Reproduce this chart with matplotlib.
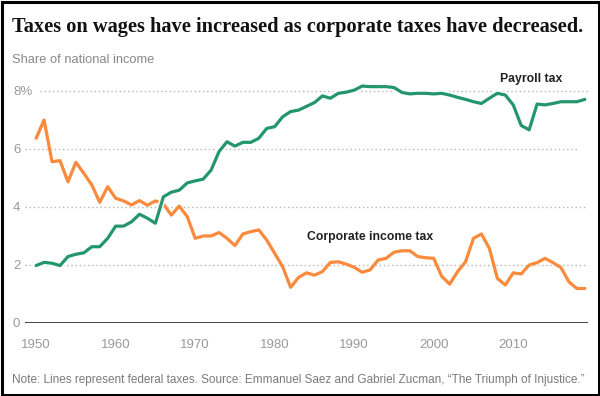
import matplotlib
matplotlib.use("Agg")
import matplotlib.pyplot as plt
from matplotlib.patches import Rectangle
import matplotlib.patheffects as pe

years = list(range(1950, 2020))
payroll = [1.97, 2.08, 2.05, 1.97, 2.28, 2.36, 2.41, 2.62, 2.62, 2.91,
           3.33, 3.33, 3.48, 3.74, 3.60, 3.43, 4.34, 4.50, 4.57, 4.82,
           4.89, 4.95, 5.26, 5.90, 6.24, 6.09, 6.22, 6.22, 6.36, 6.70,
           6.76, 7.10, 7.28, 7.33, 7.46, 7.59, 7.82, 7.74, 7.91, 7.95,
           8.02, 8.16, 8.14, 8.14, 8.14, 8.11, 7.94, 7.89, 7.91, 7.91,
           7.89, 7.91, 7.85, 7.77, 7.70, 7.62, 7.56, 7.74, 7.91, 7.85,
           7.51, 6.80, 6.65, 7.54, 7.51, 7.56, 7.62, 7.62, 7.62, 7.70]
corporate = [6.36, 6.99, 5.55, 5.59, 4.86, 5.53, 5.15, 4.75, 4.15, 4.69,
             4.29, 4.20, 4.06, 4.21, 4.05, 4.20, 4.10, 3.71, 4.02, 3.66,
             2.91, 2.99, 2.99, 3.11, 2.91, 2.66, 3.06, 3.14, 3.20, 2.85,
             2.39, 1.93, 1.22, 1.56, 1.72, 1.64, 1.76, 2.08, 2.10, 2.02,
             1.91, 1.74, 1.82, 2.16, 2.22, 2.43, 2.48, 2.48, 2.28, 2.24,
             2.22, 1.60, 1.33, 1.76, 2.10, 2.91, 3.06, 2.56, 1.53, 1.30,
             1.72, 1.68, 1.99, 2.07, 2.22, 2.07, 1.90, 1.41, 1.18, 1.18]
ytick_vals = [0, 2, 4, 6, 8]
ytick_labels = ["0", "2", "4", "6", "8%"]
xtick_vals = [1950, 1960, 1970, 1980, 1990, 2000, 2010]
xtick_labels = ["1950", "1960", "1970", "1980", "1990", "2000", "2010"]

GREEN = "#24966c"
ORANGE = "#fb8a3c"
SANS = ["Liberation Sans", "DejaVu Sans"]

W, H = 600, 396
fig = plt.figure(figsize=(W / 100, H / 100), dpi=100)
fig.patch.set_facecolor("white")

# axes placement in pixels
L, R, B, T = 25, 588, 322.7, 79.0
ax = fig.add_axes([L / W, (H - B) / H, (R - L) / W, (B - T) / H])
ax.set_xlim(1948.6, 2019.4)
ax.set_ylim(0, (B - T) / 29.0)
for s in ax.spines.values():
    s.set_visible(False)

# gridlines
grid_kw = dict(color="#b5b5b5", lw=1.0, ls=(0, (1, 2)), zorder=1)
ax.axhline(2, xmin=0, xmax=1, **grid_kw)
ax.axhline(4, xmin=0, xmax=1, **grid_kw)
ax.axhline(6, xmin=0, xmax=(578 - L) / (R - L), **grid_kw)
ax.axhline(8, xmin=(40 - L) / (R - L), xmax=1, **grid_kw)
ax.axhline(0, color="#333333", lw=1.3, zorder=2)

ax.plot(years, corporate, color=ORANGE, lw=2.3, solid_joinstyle="round",
        solid_capstyle="round", zorder=3)
ax.plot(years, payroll, color=GREEN, lw=2.3, solid_joinstyle="round",
        solid_capstyle="round", zorder=4,
        path_effects=[pe.Stroke(linewidth=4.5, foreground="white"), pe.Normal()])

ax.set_yticks(ytick_vals)
ax.set_yticklabels(ytick_labels, family=SANS, fontsize=9.5, color="#999999",
                   ha="left")
ax.tick_params(axis="y", length=0, pad=12 * 0.72)
ax.set_xticks(xtick_vals)
ax.set_xticklabels(xtick_labels, family=SANS, fontsize=9.5, color="#999999")
ax.tick_params(axis="x", length=0, pad=12)

lbl1 = ax.text(2012.3, 8.4, "Payroll tax", family=SANS, fontweight="bold",
               fontsize=9.5, color="#222222", ha="center", va="center")
lbl2 = ax.text(1992.0, 2.96, "Corporate income tax", family=SANS,
               fontweight="bold", fontsize=9.5, color="#222222",
               ha="center", va="center")

title = fig.text(12.5 / W, 1 - 32 / H,
                 "Taxes on wages have increased as corporate taxes have decreased.",
                 family=["Liberation Serif", "DejaVu Serif"],
                 fontweight="bold", fontsize=14, color="#111111",
                 ha="left", va="baseline")
sub = fig.text(12.5 / W, 1 - 60 / H, "Share of national income", family=SANS,
               fontsize=9, color="#888888", ha="left", va="center")
note = fig.text(12.5 / W, 1 - 380 / H,
                "Note: Lines represent federal taxes. Source: Emmanuel Saez and "
                "Gabriel Zucman, \u201cThe Triumph of Injustice.\u201d",
                family=SANS, fontsize=9, color="#7a7a7a", ha="left", va="center")

# fit text widths to the reference
fig.canvas.draw()
r = fig.canvas.get_renderer()
for t, target in [(title, 570), (sub, 143), (note, 575), (lbl1, 62), (lbl2, 126)]:
    w = t.get_window_extent(renderer=r).width
    t.set_fontsize(t.get_fontsize() * target / w)

fig.patches.append(Rectangle((1.5 / W, 1.5 / H), 1 - 3 / W, 1 - 3 / H,
                             transform=fig.transFigure, fill=False,
                             edgecolor="black", lw=2.2, zorder=10))

fig.savefig("out.png", dpi=100)
